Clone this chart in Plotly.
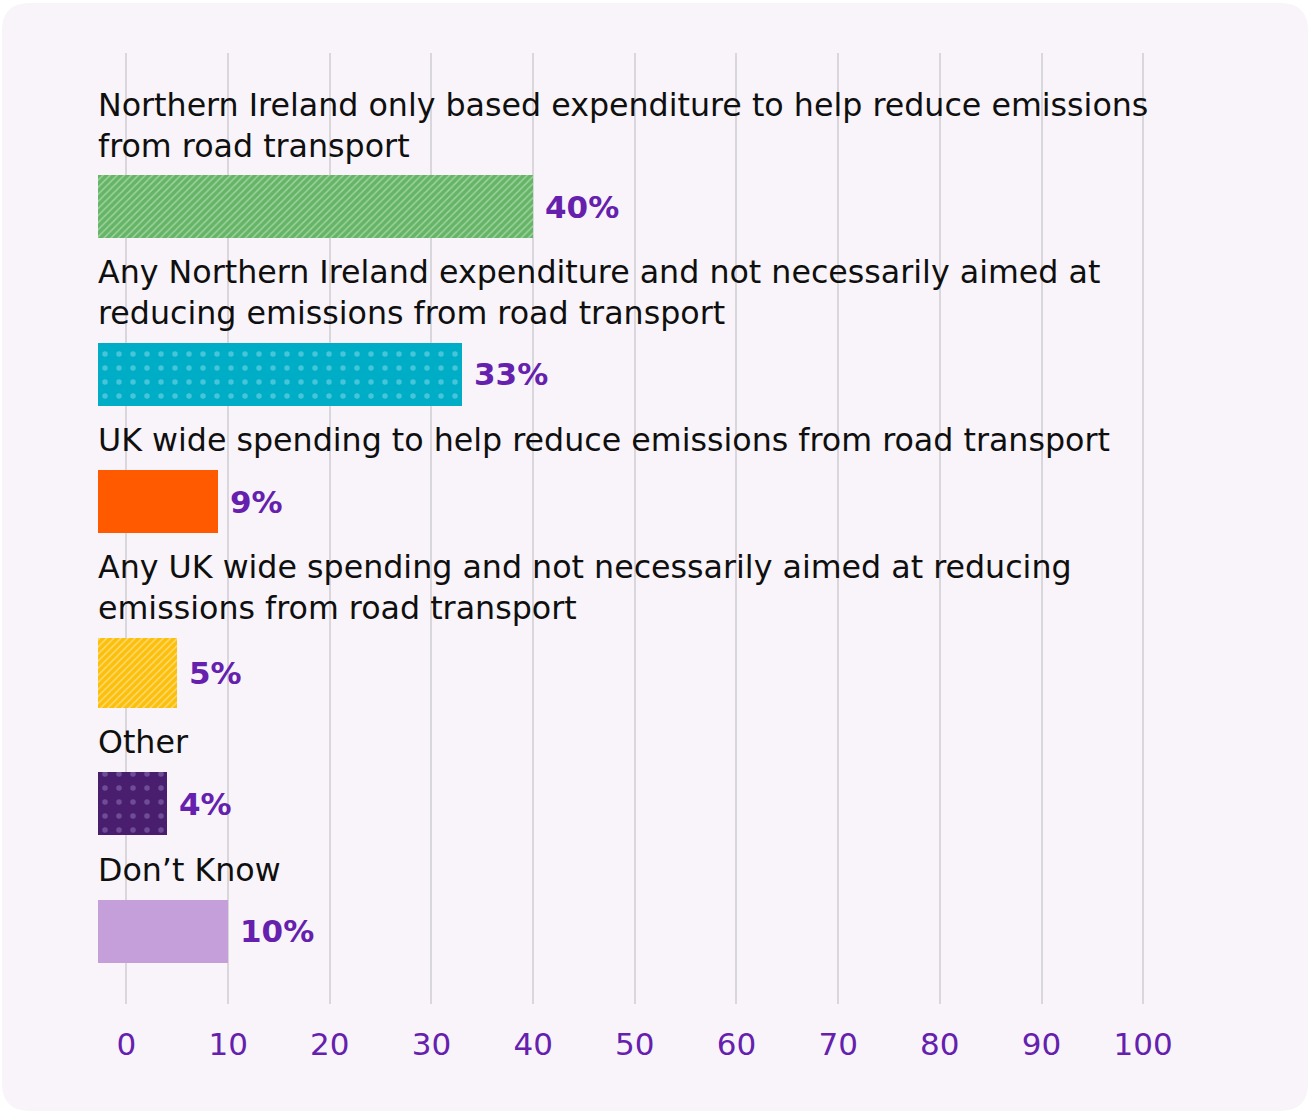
import plotly.graph_objects as go

# Survey responses: where road-transport emissions funding should come from
categories = [
    "Northern Ireland only based expenditure to help reduce emissions<br>from road transport",
    "Any Northern Ireland expenditure and not necessarily aimed at<br>reducing emissions from road transport",
    "UK wide spending to help reduce emissions from road transport",
    "Any UK wide spending and not necessarily aimed at reducing<br>emissions from road transport",
    "Other",
    "Don\u2019t Know",
]
values = [40, 33, 9, 5, 4, 10]
tick_values = [0, 10, 20, 30, 40, 50, 60, 70, 80, 90, 100]
tick_labels = ["0", "10", "20", "30", "40", "50", "60", "70", "80", "90", "100"]

# Bar styling (colour, pattern)
bar_styles = [
    dict(color="#66b467", shape="/", fg="#9cd49d", size=5, solidity=0.3),
    dict(color="#00adc6", shape=".", fg="#45c5da", size=14, solidity=0.12),
    dict(color="#ff5a00", shape="", fg=None, size=None, solidity=None),
    dict(color="#fcbf0b", shape="/", fg="#ffdb70", size=5, solidity=0.3),
    dict(color="#4a1e6f", shape=".", fg="#6f4c96", size=14, solidity=0.12),
    dict(color="#c49fda", shape="", fg=None, size=None, solidity=None),
]
bar_thickness = [63, 63, 63, 70, 63, 63]

W, H = 1309, 1113
MARGIN_L, MARGIN_R = 98, 13
PLOT_TOP, PLOT_BOTTOM = 53, 1004
PX_PER_UNIT = 10.167
X_MIN = -2.8
X_MAX = X_MIN + (W - MARGIN_L - MARGIN_R) / PX_PER_UNIT

PURPLE = "#6520ae"
TEXT = "#0f0f0f"
FONT = "DejaVu Sans"
LINE_H = 40

fig = go.Figure()
annotations = []

cursor = 52  # centre of first label line, in pixels from plot top
for cat, val, st, th in zip(categories, values, bar_styles, bar_thickness):
    n_lines = cat.count("<br>") + 1
    label_mid = cursor + LINE_H * (n_lines - 1) / 2
    bar_mid = cursor + LINE_H * (n_lines - 1) + 30 + th / 2

    marker = dict(color=st["color"], line=dict(width=0))
    if st["shape"]:
        marker["pattern"] = dict(
            shape=st["shape"], fgcolor=st["fg"], bgcolor=st["color"],
            size=st["size"], solidity=st["solidity"], fillmode="replace",
        )
    fig.add_trace(go.Bar(
        y=[bar_mid], x=[val - X_MIN], base=X_MIN, orientation="h",
        width=th, marker=marker, showlegend=False, hoverinfo="skip",
    ))

    annotations.append(dict(
        x=X_MIN, y=label_mid, xref="x", yref="y", text=cat, showarrow=False,
        xanchor="left", yanchor="middle", align="left", xshift=-2,
        font=dict(family=FONT, size=31.7, color=TEXT),
    ))
    annotations.append(dict(
        x=val, y=bar_mid, xref="x", yref="y", text=f"<b>{val}%</b>",
        showarrow=False, xanchor="left", yanchor="middle", xshift=10,
        font=dict(family=FONT, size=31, color=PURPLE),
    ))
    cursor = bar_mid + th / 2 + 34.5

# Rounded card behind the chart, given in pixels and converted to paper units
plot_w = W - MARGIN_L - MARGIN_R
plot_h = PLOT_BOTTOM - PLOT_TOP


def px(x):
    return (x - MARGIN_L) / plot_w


def py(y):
    return 1 - (y - PLOT_TOP) / plot_h


def rounded_rect(x0, y0, x1, y1, r):
    return (
        f"M {px(x0 + r)} {py(y0)} L {px(x1 - r)} {py(y0)} "
        f"Q {px(x1)} {py(y0)} {px(x1)} {py(y0 + r)} "
        f"L {px(x1)} {py(y1 - r)} "
        f"Q {px(x1)} {py(y1)} {px(x1 - r)} {py(y1)} "
        f"L {px(x0 + r)} {py(y1)} "
        f"Q {px(x0)} {py(y1)} {px(x0)} {py(y1 - r)} "
        f"L {px(x0)} {py(y0 + r)} "
        f"Q {px(x0)} {py(y0)} {px(x0 + r)} {py(y0)} Z"
    )


fig.update_layout(
    width=W, height=H,
    margin=dict(l=MARGIN_L, r=MARGIN_R, t=PLOT_TOP, b=H - PLOT_BOTTOM),
    paper_bgcolor="white",
    plot_bgcolor="rgba(0,0,0,0)",
    bargap=0,
    annotations=annotations,
    shapes=[dict(
        type="path", xref="paper", yref="paper",
        path=rounded_rect(2, 3, 1308, 1111, 28),
        fillcolor="#f8f4f9", line=dict(width=0), layer="below",
    )],
    xaxis=dict(
        range=[X_MIN, X_MAX], tickvals=tick_values, ticktext=tick_labels,
        showgrid=True, gridcolor="#d9d6dc", gridwidth=2,
        zeroline=False, showline=False, ticks="",
        ticklabelstandoff=19,
        tickfont=dict(family=FONT, size=31, color=PURPLE),
        fixedrange=True,
    ),
    yaxis=dict(
        range=[plot_h, 0], visible=False, showgrid=False, zeroline=False,
        fixedrange=True,
    ),
)

fig.write_html("out.html", config={"displayModeBar": False})
